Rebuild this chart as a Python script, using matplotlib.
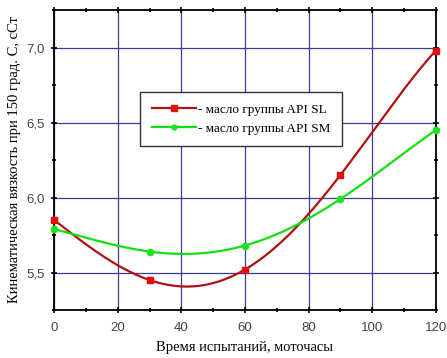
import numpy as np
import matplotlib.pyplot as plt
from matplotlib.lines import Line2D

hours = [0, 30, 60, 90, 120]
visc_sl = [5.85, 5.45, 5.52, 6.15, 6.98]
visc_sm = [5.79, 5.64, 5.68, 5.99, 6.45]

fig = plt.figure(figsize=(4.47, 3.58), dpi=100)
ax = fig.add_axes([0.121, 0.134, 0.854, 0.838])

xs = np.linspace(0, 120, 300)
# smooth curves through the points
p_sl = np.polyfit(hours, visc_sl, 4)
p_sm = np.polyfit(hours, visc_sm, 4)
ax.plot(xs, np.polyval(p_sl, xs), color='#b01010', lw=1.6, zorder=3)
ax.plot(xs, np.polyval(p_sm, xs), color='#10e010', lw=1.6, zorder=3)
ax.plot(hours, visc_sl, 's', color='#e01010', ms=5, zorder=4, clip_on=False)
ax.plot(hours, visc_sm, 'o', color='#20e020', ms=4.5, zorder=4, clip_on=False)

ax.set_xlim(0, 120)
ax.set_ylim(5.25, 7.25)
ax.set_xticks(range(0, 121, 20))
ax.set_xticks(range(10, 120, 20), minor=True)
ax.set_yticks([5.5, 6.0, 6.5, 7.0])
ax.set_yticks([5.25, 5.75, 6.25, 6.75, 7.25], minor=True)
ax.set_yticklabels(['5,5', '6,0', '6,5', '7,0'])
ax.grid(True, which='major', color='#3a3a9a', lw=0.9, zorder=1)
ax.set_axisbelow(True)

ax.tick_params(axis='both', which='both', top=True, right=True,
               labelsize=9.5, labelcolor='#444444', width=1.2)
ax.tick_params(which='major', length=5)
ax.tick_params(which='minor', length=3)
ax.tick_params(axis='x', which='both', direction='inout', pad=6)
ax.tick_params(axis='y', which='both', direction='inout', pad=4)
for lab in ax.get_xticklabels() + ax.get_yticklabels():
    lab.set_family('Liberation Sans')
for s in ax.spines.values():
    s.set_linewidth(1.3)

ax.set_xlabel('Время испытаний, моточасы', family='Liberation Serif',
              fontsize=10.5, labelpad=5)
ax.set_ylabel('Кинематическая вязкость при 150 град. С, сСт',
              family='Liberation Serif', fontsize=10.5, labelpad=4)

handles = [
    Line2D([], [], color='#b01010', lw=1.6, marker='s', ms=4,
           markerfacecolor='#e01010', markeredgecolor='#e01010'),
    Line2D([], [], color='#10e010', lw=1.6, marker='o', ms=3.5,
           markerfacecolor='#20e020', markeredgecolor='#20e020'),
]
ax.legend(handles, ['- масло группы API SL', '- масло группы API SM'],
          loc='upper left', bbox_to_anchor=(0.207, 0.75),
          prop={'family': 'Liberation Serif', 'size': 9.5},
          fancybox=False, edgecolor='#333333', framealpha=1,
          handlelength=3.4, handletextpad=0.1, borderpad=0.9,
          labelspacing=0.5)

fig.savefig('out.png', dpi=100)
